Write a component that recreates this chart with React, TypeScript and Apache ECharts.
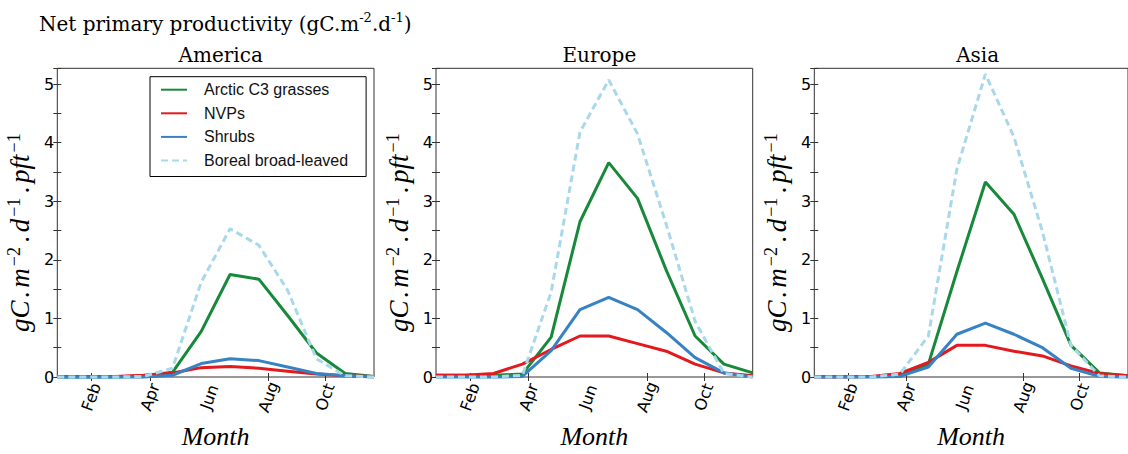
import React, { useEffect, useRef } from "react";
import * as echarts from "echarts";

// ---- data ----
const regions = ["America", "Europe", "Asia"];
const seriesNames = ["Arctic C3 grasses", "NVPs", "Shrubs", "Boreal broad-leaved"];
const seriesColors = ["#17893a", "#e3191d", "#3682c3", "#a9d8ea"];

const tickLabels = ["Feb", "Apr", "Jun", "Aug", "Oct"];
const tickPositions = [1.18, 3.22, 5.28, 7.33, 9.3];
const tickMarkPositions = [1.18, 3.22, 7.33, 9.3];

// monthly values, Jan..Dec
const americaGrasses = [0, 0, 0, 0.02, 0.08, 0.78, 1.75, 1.67, 1.05, 0.41, 0.06, 0.01];
const americaNVPs = [0.01, 0.01, 0.01, 0.03, 0.07, 0.16, 0.18, 0.15, 0.1, 0.05, 0.02, 0.01];
const americaShrubs = [0, 0, 0, 0, 0.03, 0.23, 0.31, 0.28, 0.17, 0.06, 0.02, 0];
const americaBoreal = [0, 0, 0, 0.01, 0.15, 1.62, 2.53, 2.25, 1.48, 0.31, 0.02, 0];

const europeGrasses = [0.03, 0.03, 0.03, 0.05, 0.68, 2.65, 3.66, 3.05, 1.82, 0.7, 0.22, 0.07];
const europeNVPs = [0.03, 0.03, 0.06, 0.22, 0.47, 0.7, 0.7, 0.57, 0.44, 0.22, 0.07, 0.02];
const europeShrubs = [0, 0, 0, 0.01, 0.45, 1.15, 1.36, 1.15, 0.76, 0.33, 0.07, 0];
const europeBoreal = [0, 0, 0, 0.03, 1.45, 4.18, 5.07, 4.15, 2.6, 0.95, 0.06, 0];

const asiaGrasses = [0.01, 0.01, 0.01, 0.01, 0.22, 1.8, 3.33, 2.78, 1.68, 0.54, 0.07, 0.02];
const asiaNVPs = [0, 0, 0.01, 0.06, 0.25, 0.54, 0.54, 0.44, 0.36, 0.19, 0.06, 0.02];
const asiaShrubs = [0, 0, 0, 0.01, 0.17, 0.73, 0.92, 0.73, 0.5, 0.15, 0.01, 0];
const asiaBoreal = [0, 0, 0, 0.05, 0.7, 3.55, 5.17, 4.1, 2.48, 0.54, 0.02, 0];

const regionData = [
  [americaGrasses, americaNVPs, americaShrubs, americaBoreal],
  [europeGrasses, europeNVPs, europeShrubs, europeBoreal],
  [asiaGrasses, asiaNVPs, asiaShrubs, asiaBoreal],
];

const yMax = 5.27;

// ---- layout ----
const gridLefts = [57.3, 436, 814.3];
const gridTop = 68.3;
const gridWidth = 316.7;
const gridHeight = 311;

const frameColor = "#333";
const mathFont = "Liberation Serif";

function labelFor(v: number) {
  let best = 0;
  let d = Infinity;
  tickPositions.forEach((p, i) => {
    if (Math.abs(p - v) < d) {
      d = Math.abs(p - v);
      best = i;
    }
  });
  return tickLabels[best];
}

export default function App() {
  const ref = useRef<HTMLDivElement>(null);
  useEffect(() => {
    if (!ref.current) return;
    const chart = echarts.init(ref.current, undefined, { renderer: "svg" });

    const grids: any[] = [];
    const xAxes: any[] = [];
    const yAxes: any[] = [];
    const series: any[] = [];
    const titles: any[] = [
      {
        text: "{a|Net primary productivity (gC.m}{s|-2}{a|.d}{s|-1}{a|)}",
        left: 34,
        top: 6,
        textStyle: {
          fontWeight: "normal",
          rich: {
            a: { fontFamily: "DejaVu Serif", fontWeight: "normal", fontSize: 20, color: "#000", lineHeight: 26 },
            s: { fontFamily: "DejaVu Serif", fontWeight: "normal", fontSize: 13, color: "#000", lineHeight: 26, verticalAlign: "top" },
          },
        },
      },
    ];

    regions.forEach((region, g) => {
      const left = gridLefts[g];
      grids.push({
        left,
        top: gridTop,
        width: gridWidth,
        height: gridHeight,
        show: true,
        borderColor: frameColor,
        borderWidth: 1,
        backgroundColor: "transparent",
        containLabel: false,
      });
      titles.push({
        text: region,
        left: left + gridWidth / 2,
        textAlign: "center",
        top: 40,
        textStyle: { fontFamily: "DejaVu Serif", fontSize: 20, fontWeight: "normal", color: "#000" },
      });
      // bottom x axis
      xAxes.push({
        type: "value",
        gridIndex: g,
        min: 0,
        max: 11,
        position: "bottom",
        axisLine: { show: false },
        splitLine: { show: false },
        axisTick: {
          show: true,
          inside: true,
          length: 4,
          customValues: tickMarkPositions,
          lineStyle: { color: frameColor },
        },
        axisLabel: {
          customValues: tickPositions,
          formatter: (v: number) => labelFor(v),
          rotate: 70,
          align: "center",
          verticalAlign: "middle",
          margin: 20,
          fontFamily: "DejaVu Sans",
          fontSize: 16,
          color: "#000",
        },
        name: "Month",
        nameLocation: "middle",
        nameGap: 46,
        nameTextStyle: { fontFamily: mathFont, fontStyle: "italic", fontSize: 26, color: "#000" },
      });
      // top x axis (ticks only)
      xAxes.push({
        type: "value",
        gridIndex: g,
        min: 0,
        max: 11,
        position: "top",
        axisLine: { show: false },
        splitLine: { show: false },
        axisTick: {
          show: true,
          inside: true,
          length: 4,
          customValues: tickMarkPositions,
          lineStyle: { color: frameColor },
        },
        axisLabel: { show: false },
      });
      // left y axis
      yAxes.push({
        type: "value",
        gridIndex: g,
        min: 0,
        max: yMax,
        interval: 0.5,
        position: "left",
        axisLine: { show: false },
        splitLine: { show: false },
        axisTick: { show: true, inside: true, length: 4, lineStyle: { color: frameColor } },
        axisLabel: {
          formatter: (v: number) => (Math.abs(v - Math.round(v)) < 1e-9 ? String(Math.round(v)) : ""),
          fontFamily: "DejaVu Sans",
          fontSize: 16,
          color: "#000",
          margin: 3,
        },
        name: "{n|gC}{d|.}{n|m}{s|−2}{d|.}{n|d}{s|−1}{d|.}{n|pft}{s|−1}",
        nameLocation: "middle",
        nameRotate: 90,
        nameGap: 22,
        nameTextStyle: {
          padding: [0, 18, 0, 0],
          rich: {
            n: { fontFamily: mathFont, fontStyle: "italic", fontSize: 27, color: "#000", lineHeight: 30 },
            d: { fontFamily: mathFont, fontStyle: "italic", fontSize: 27, color: "#000", lineHeight: 30, padding: [0, 3, 0, 3] },
            s: { fontFamily: mathFont, fontSize: 18, color: "#000", lineHeight: 30, verticalAlign: "top", padding: [0, 2, 0, 2] },
          },
        },
      });
      // right y axis (ticks only)
      yAxes.push({
        type: "value",
        gridIndex: g,
        min: 0,
        max: yMax,
        interval: 0.5,
        position: "right",
        axisLine: { show: false },
        splitLine: { show: false },
        axisTick: { show: true, inside: true, length: 4, lineStyle: { color: frameColor } },
        axisLabel: { show: false },
      });

      regionData[g].forEach((vals, s) => {
        series.push({
          type: "line",
          name: seriesNames[s],
          xAxisIndex: g * 2,
          yAxisIndex: g * 2,
          data: vals.map((v, i) => [i, v]),
          symbol: "none",
          clip: false,
          color: seriesColors[s],
          lineStyle: {
            width: 3,
            color: seriesColors[s],
            type: s === 3 ? [7, 4] : "solid",
          },
          z: 2 + s,
        });
      });
    });

    chart.setOption({
      animation: false,
      backgroundColor: "#fff",
      title: titles,
      grid: grids,
      xAxis: xAxes,
      yAxis: yAxes,
      series,
      legend: {
        data: seriesNames,
        orient: "vertical",
        left: 150,
        top: 76.7,
        itemWidth: 26,
        itemHeight: 14,
        itemGap: 7.6,
        padding: [5, 18, 8, 10],
        borderColor: "#000",
        borderWidth: 1,
        backgroundColor: "#fff",
        itemStyle: { opacity: 0, borderWidth: 0 },
        textStyle: {
          fontFamily: "Liberation Sans",
          fontSize: 16,
          lineHeight: 16,
          color: "#111",
          padding: [0, 0, 0, 12],
        },
      },
    });
    return () => chart.dispose();
  }, []);
  return (
    <div
      ref={ref}
      style={{ position: "absolute", left: 0, top: 0, width: 1128, height: 454 }}
    />
  );
}
